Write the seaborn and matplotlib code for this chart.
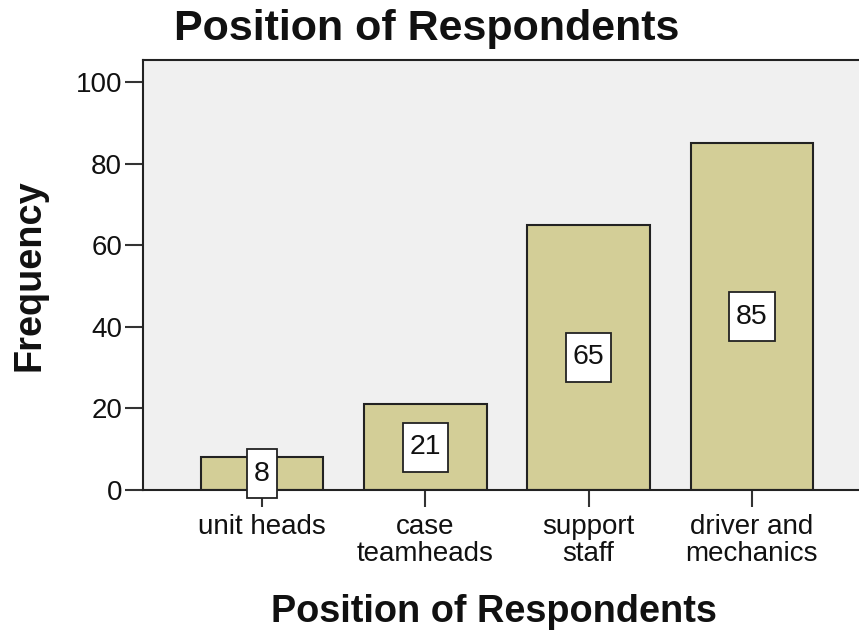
import matplotlib
matplotlib.use("Agg")
import matplotlib.pyplot as plt
from matplotlib.path import Path
import seaborn as sns
import pandas as pd

# Frequency of each respondent position
positions = ["unit heads", "case\nteamheads", "support\nstaff", "driver and\nmechanics"]
frequency = [8, 21, 65, 85]
y_ticks = [0, 20, 40, 60, 80, 100]

title_text = "Position of Respondents"
x_label = "Position of Respondents"
y_label = "Frequency"

sns.set_theme(style="white")
plt.rcParams["font.family"] = ["Liberation Sans", "DejaVu Sans"]

df = pd.DataFrame({"position": positions, "frequency": frequency})


def label_box(x0, y0, width, height, mutation_size):
    """Square box, a little taller than wide around the value text."""
    px = 0.24 * mutation_size
    py = 0.40 * mutation_size
    l, r = x0 - px, x0 + width + px
    b, t = y0 - py, y0 + height + py
    return Path([(l, b), (r, b), (r, t), (l, t), (l, b)], closed=True)


fig = plt.figure(figsize=(8.59, 6.34), dpi=100)
ax = fig.add_axes([143 / 859, (634 - 490) / 634, (871 - 143) / 859, (490 - 60) / 634])
ax.set_facecolor("#f0f0f0")

sns.barplot(data=df, x="position", y="frequency", ax=ax, color="#d3ce97",
            saturation=1, width=0.75, edgecolor="#222222", linewidth=1.5)

ax.set_xlim(-0.73, 3.73)
ax.set_ylim(0, 105.4)
ax.set_yticks(y_ticks)
ax.set_yticklabels([str(t) for t in y_ticks])

# value labels in white boxes at half bar height
for container in ax.containers:
    ax.bar_label(container, labels=[str(v) for v in frequency], label_type="center",
                 fontsize=20.5, color="#111111",
                 bbox=dict(boxstyle=label_box, facecolor="white",
                           edgecolor="#222222", linewidth=1.3))

for side in ["left", "bottom", "top", "right"]:
    ax.spines[side].set_visible(True)
    ax.spines[side].set_color("#222222")
    ax.spines[side].set_linewidth(1.5)

ax.tick_params(axis="y", which="major", direction="out", length=13, width=1.5,
               color="#333333", labelsize=20, labelcolor="#111111", pad=2, left=True)
ax.tick_params(axis="x", which="major", direction="out", length=12, width=1.5,
               color="#333333", labelsize=20, labelcolor="#111111", pad=5, bottom=True)
for lbl in ax.get_xticklabels():
    lbl.set_linespacing(1.08)

ax.set_xlabel("")
ax.set_ylabel("")

fig.text(427 / 859, 1 - 29 / 634, title_text, ha="center", va="center",
         fontsize=31, fontweight="bold", color="#111111")
fig.text(494 / 859, 1 - 612 / 634, x_label, ha="center", va="center",
         fontsize=27.3, fontweight="bold", color="#111111")
fig.text(30 / 859, 1 - 275 / 634, y_label, ha="center", va="center", rotation=90,
         fontsize=27.3, fontweight="bold", color="#111111")

fig.savefig("out.png", dpi=100)
